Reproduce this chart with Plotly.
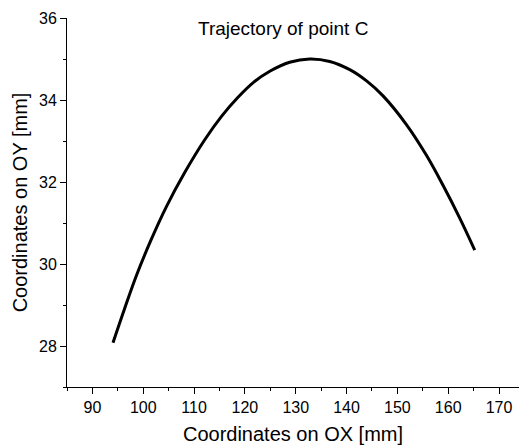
import plotly.graph_objects as go

# Trajectory of point C
x_mm = [94.05, 96.36, 98.66, 101.41, 104.56, 108.16, 112.10, 115.40, 118.60,
        121.70, 124.90, 128.80, 132.76, 136.70, 140.63, 144.00, 147.18,
        151.78, 155.72, 158.98, 162.27, 165.22]
y_mm = [28.08, 28.92, 29.72, 30.55, 31.40, 32.23, 33.03, 33.60, 34.06,
        34.43, 34.70, 34.92, 35.00, 34.94, 34.74, 34.46, 34.10,
        33.40, 32.65, 31.92, 31.12, 30.34]

x_ticks = [90, 100, 110, 120, 130, 140, 150, 160, 170]
y_ticks = [28, 30, 32, 34, 36]
x_minor = [85, 95, 105, 115, 125, 135, 145, 155, 165]
y_minor = [27, 29, 31, 33, 35]

FONT = "Liberation Sans, Arial, sans-serif"

fig = go.Figure()
fig.add_trace(go.Scatter(
    x=x_mm, y=y_mm, mode="lines",
    line=dict(color="black", width=3, shape="spline", smoothing=1.0),
    showlegend=False, hoverinfo="skip",
))

fig.update_layout(
    width=519, height=445,
    margin=dict(l=67, r=0, t=18, b=58),
    paper_bgcolor="white", plot_bgcolor="white",
    font=dict(family=FONT, color="black", size=16),
    annotations=[dict(
        text="Trajectory of point C", xref="paper", yref="paper",
        x=0.477, y=0.972, xanchor="center", yanchor="middle",
        showarrow=False, font=dict(family=FONT, size=19, color="black"),
    )],
)

fig.update_xaxes(
    range=[85, 173.93], showgrid=False, zeroline=False,
    showline=True, linecolor="black", linewidth=1,
    ticks="outside", ticklen=6, tickwidth=1, tickcolor="black",
    tickvals=x_ticks, ticktext=[str(v) for v in x_ticks],
    minor=dict(ticks="outside", ticklen=3, tickwidth=1, tickcolor="black",
               tickvals=x_minor),
    tickfont=dict(size=16),
    title=dict(text="Coordinates on OX [mm]", font=dict(size=20), standoff=11),
)
fig.update_yaxes(
    range=[27, 36], showgrid=False, zeroline=False,
    showline=True, linecolor="black", linewidth=1,
    ticks="outside", ticklen=6, tickwidth=1, tickcolor="black",
    tickvals=y_ticks, ticktext=[str(v) for v in y_ticks],
    minor=dict(ticks="outside", ticklen=3, tickwidth=1, tickcolor="black",
               tickvals=y_minor),
    tickfont=dict(size=16),
    title=dict(text="Coordinates on OY [mm]", font=dict(size=20), standoff=6),
)

fig.write_html("out.html")
